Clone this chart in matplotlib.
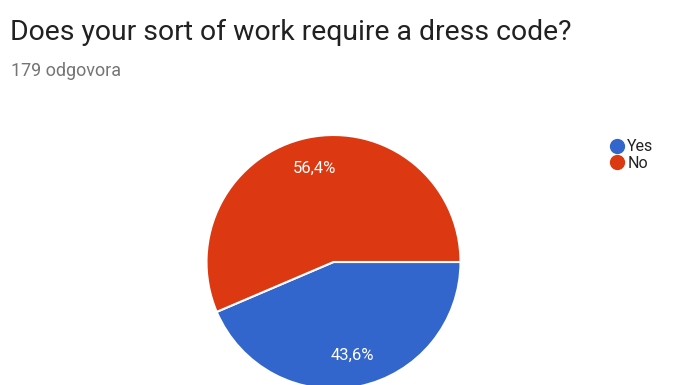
import matplotlib
matplotlib.use("Agg")
import matplotlib.pyplot as plt
from matplotlib.lines import Line2D

plt.rcParams['font.family'] = ['Roboto', 'DejaVu Sans']

title = "Does your sort of work require a dress code?"
subtitle = "179 odgovora"
categories = ["Yes", "No"]
counts = [78, 101]
colors = ["#3366CC", "#DC3912"]

W, H = 690, 385
fig = plt.figure(figsize=(W / 100, H / 100), dpi=100)
ax = fig.add_axes([0, 0, 1, 1])

def fmt(p):
    return f"{p:.1f}%".replace('.', ',')

wedges, texts, autotexts = ax.pie(
    counts, colors=colors, startangle=0, counterclock=False,
    center=(333.5, H - 262), radius=127, autopct=fmt, pctdistance=0.75,
    wedgeprops=dict(edgecolor='white', linewidth=1.5),
    textprops=dict(color='white', fontsize=12), frame=True)
ax.set_xlim(0, W)
ax.set_ylim(0, H)
ax.set_aspect('equal')
ax.axis('off')

fig.text(10 / W, 1 - 40 / H, title, fontsize=20.4, color='#212121',
         ha='left', va='baseline')
fig.text(11 / W, 1 - 76 / H, subtitle, fontsize=13, color='#757575',
         ha='left', va='baseline')

handles = [Line2D([], [], marker='o', linestyle='', markersize=10,
                  markerfacecolor=c, markeredgecolor=c) for c in colors]
leg = fig.legend(handles, categories, loc='upper left',
                 bbox_to_anchor=(601 / W, 1 - 133 / H), frameon=False,
                 fontsize=11.5, handletextpad=0.05, labelspacing=0.1,
                 handlelength=1.2, borderaxespad=0)
for t in leg.get_texts():
    t.set_color('#222222')

fig.savefig("out.png", dpi=100, facecolor='white')
